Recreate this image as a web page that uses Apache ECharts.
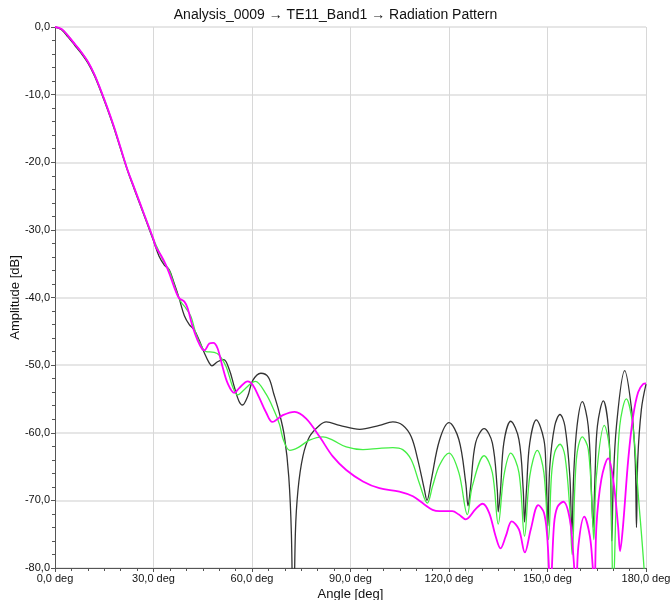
<!DOCTYPE html>
<html>
<head>
<meta charset="utf-8">
<script src="https://cdn.jsdelivr.net/npm/echarts@6/dist/echarts.min.js"></script>
<style>
html,body{margin:0;padding:0;background:#fff;}
#chart{width:671px;height:600px;}
</style>
</head>
<body>
<div id="chart"></div>
<script>
var titleText = "Analysis_0009 \u2192 TE11_Band1 \u2192 Radiation Pattern";
var xTicks = [0, 30, 60, 90, 120, 150, 180];

var angleBlack = [0,2,4,6,8,10,12,14,16,18,20,22,24,26,28,30,31.7,33.3,34.8,36.3,37.8,39.4,40.9,42.4,43.9,45.5,47.0,47.8,49.5,51.4,53.1,54.6,56.0,57.1,58.7,60.2,62.7,65.0,66.6,68.4,69.9,71.2,72.0,72.6,73.2,74.0,75.5,77.5,80.6,82.6,86.7,92.8,98.8,102.9,105.9,108.5,110.5,112.5,113.3,114.6,117.1,120,123,125.1,125.8,126.6,128.1,130.7,133.2,134.7,135.0,135.7,136.7,138.8,141.3,142.6,143.0,143.6,144.6,146.6,148.9,149.5,150.1,150.7,152.2,153.8,155.3,156.8,157.4,158.0,159.0,160.6,162.4,163.4,163.9,164.5,165.2,167.0,168.5,169.3,169.6,170.0,171.0,173.5,175.6,176.7,177.1,177.5,178.6,180];
var dbBlack = [0,-0.4,-1.5,-2.7,-3.9,-5.3,-7.2,-9.6,-12.2,-15.0,-18.1,-21.1,-23.8,-26.4,-29.0,-31.6,-33.9,-35.2,-35.9,-37.9,-40.1,-42.7,-44.0,-44.8,-46.3,-48.2,-49.7,-50.1,-49.5,-49.2,-50.7,-53.2,-55.3,-55.9,-54.6,-52.3,-51.2,-51.8,-54.2,-57.2,-60.6,-66.5,-75,-92,-75,-68.5,-63.5,-60.6,-58.9,-58.4,-58.9,-59.5,-58.9,-58.4,-58.9,-60.6,-64,-68.4,-70.0,-67,-61.1,-58.5,-61,-67.4,-70.8,-67.9,-61.5,-59.4,-61.5,-68.4,-71.7,-68.4,-61.5,-58.3,-61,-68.4,-73.2,-68.4,-61.5,-58.1,-61,-65,-73.8,-65,-59,-57.3,-59,-66.4,-75,-66,-59,-55.4,-59,-68.9,-74,-66,-59,-55.3,-59,-68,-76,-68,-59,-50.8,-56.5,-63.9,-74,-63.9,-56.5,-52.8];

var angleGreen = [0,2,4,6,8,10,12,14,16,18,20,22,24,26,28,30,31.2,33.3,34.8,36.8,38.3,39.9,41.4,42.9,44.4,46.0,48.5,50.0,52.1,54.1,55.6,57.7,59.7,61.0,64.3,66.8,68.4,69.6,71.5,74.0,77.5,81.6,84.6,88.7,93.8,98.8,102.9,105.9,108.5,111.0,113.4,115.0,117.1,120,123,125.6,127.1,130.7,133.2,135.0,136.7,138.8,141.3,143.0,144.6,146.9,148.9,150.3,151.2,152.2,153.8,155.3,156.8,157.5,158.8,160.6,162.4,163.6,164.1,164.9,167.3,169.0,170.0,171.0,172.0,174.0,176.0,177.6,179.4,180];
var dbGreen = [0,-0.3,-1.3,-2.5,-3.7,-5.1,-7.0,-9.4,-12.0,-14.8,-17.9,-21.0,-23.6,-26.2,-28.8,-31.4,-32.7,-34.9,-36.0,-38.9,-40.6,-41.6,-42.8,-45.3,-47.0,-48.0,-48.1,-48.5,-50.2,-53.2,-54.4,-53.6,-52.7,-52.4,-54.3,-56.8,-58.8,-61.1,-62.6,-62.2,-61.1,-60.6,-61.1,-62.1,-62.5,-62.3,-62.2,-62.5,-64,-67.5,-70.4,-67.9,-64.8,-63,-65.9,-72.1,-67.9,-63.4,-65.9,-73.5,-66.4,-63,-65.9,-75.3,-66.4,-62.6,-65.9,-75.8,-66.4,-62.9,-61.7,-63.4,-71.3,-78,-63.9,-60.6,-62.4,-71.3,-75.8,-66.4,-58.9,-62.9,-84,-68.9,-59,-55,-59,-68.9,-80,-86];

var angleMagenta = [0,2,4,6,8,10,12,14,16,18,20,22,24,26,28,30,30.7,32.2,33.8,35.3,36.8,37.8,39.4,40.4,41.9,43.4,44.9,45.5,47.0,48.2,49.5,51.0,52.6,54.6,56.1,58.7,60.2,62.2,64.3,66.2,69.4,73.0,76.5,80.6,84.6,88.7,93.8,98.8,104.9,109.0,112.5,115.0,117.1,121.0,123.0,125.1,128.1,130.2,132.2,134.2,135.7,137.3,139.1,141.3,143.1,144.9,147.2,148.9,149.9,150.9,152.0,153.0,154.8,156.8,158.0,158.7,159.4,161.2,162.9,163.8,164.3,164.9,166.4,168.5,170.0,171.5,172.1,173.0,174.6,176.1,177.6,179.1,180];
var dbMagenta = [0,-0.3,-1.3,-2.5,-3.7,-5.1,-7.0,-9.4,-12.0,-14.8,-17.9,-21.0,-23.6,-26.2,-28.8,-31.4,-32.5,-33.7,-35.2,-37.1,-39.1,-40.1,-40.6,-41.6,-44.3,-46.3,-47.7,-47.8,-46.8,-46.7,-47.5,-50.2,-52.7,-54.1,-53.4,-52.4,-52.9,-54.8,-57.0,-58.4,-57.4,-56.9,-57.9,-60.6,-63.5,-65.5,-67.2,-68.2,-68.7,-69.4,-70.6,-71.4,-71.6,-71.6,-72.1,-72.8,-71.3,-70.5,-71.8,-75.3,-77.1,-75.3,-73.1,-74.3,-77.7,-74.3,-70.7,-71.8,-75.3,-83,-73.5,-71,-70.2,-72.8,-79,-84,-76.8,-72.4,-75.3,-80,-84,-73.8,-66.9,-63.8,-66.9,-73.8,-77.5,-73.8,-63.9,-57.5,-54,-52.8,-52.7];

function pairs(a, v) { return a.map(function (x, i) { return [x, v[i]]; }); }
function comma(v) { return v.toFixed(1).replace('.', ','); }

var font = "'Liberation Sans', Arial, sans-serif";
var chart = echarts.init(document.getElementById('chart'), null, {renderer: 'canvas'});
chart.setOption({
  animation: false,
  backgroundColor: '#ffffff',
  title: {
    text: titleText, left: 'center', top: 3,
    textStyle: {fontSize: 14, fontWeight: 'normal', color: '#111', fontFamily: font}
  },
  grid: {left: 55, right: 25, top: 27, bottom: 32, containLabel: false, outerBoundsMode: 'none'},
  xAxis: {
    type: 'value', min: 0, max: 180, interval: 30,
    name: 'Angle [deg]', nameLocation: 'middle', nameGap: 20, nameMoveOverlap: false,
    nameTextStyle: {fontSize: 13, color: '#111', fontFamily: font},
    axisLine: {show: true, onZero: false, lineStyle: {color: '#555', width: 1}},
    axisTick: {show: true, length: 4, lineStyle: {color: '#555'}},
    minorTick: {show: true, splitNumber: 6, length: 3, lineStyle: {color: '#555'}},
    axisLabel: {fontSize: 11, color: '#111', fontFamily: font, margin: 5,
      formatter: function (v) { return comma(v) + ' deg'; }},
    splitLine: {show: true, lineStyle: {color: '#d8d8d8', width: 1}}
  },
  yAxis: {
    type: 'value', min: -80, max: 0, interval: 10,
    name: 'Amplitude [dB]', nameLocation: 'middle', nameGap: 33, nameRotate: 90, nameMoveOverlap: false,
    nameTextStyle: {fontSize: 13, color: '#111', fontFamily: font},
    axisLine: {show: true, onZero: false, lineStyle: {color: '#555', width: 1}},
    axisTick: {show: true, length: 4, lineStyle: {color: '#555'}},
    minorTick: {show: true, splitNumber: 5, length: 3, lineStyle: {color: '#555'}},
    axisLabel: {fontSize: 11, color: '#111', fontFamily: font, margin: 5,
      formatter: function (v) { return comma(v); }},
    splitLine: {show: true, lineStyle: {color: '#dedede', width: 1.5}}
  },
  series: [
    {type: 'line', data: pairs(angleBlack, dbBlack), showSymbol: false, smooth: 0.35, clip: true,
      lineStyle: {color: '#333333', width: 1.3}},
    {type: 'line', data: pairs(angleGreen, dbGreen), showSymbol: false, smooth: 0.35, clip: true,
      lineStyle: {color: '#44ee44', width: 1.3}},
    {type: 'line', data: pairs(angleMagenta, dbMagenta), showSymbol: false, smooth: 0.35, clip: true,
      lineStyle: {color: '#ff00ff', width: 1.8}}
  ]
});
</script>
</body>
</html>
